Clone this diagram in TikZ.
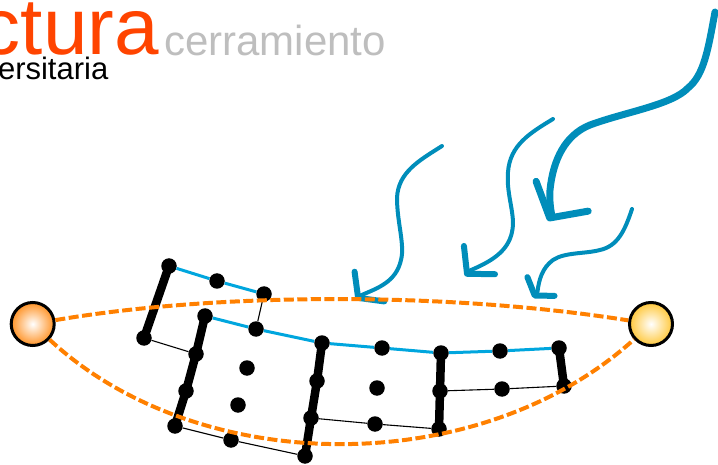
\documentclass[tikz,border=0pt]{standalone}
\usepackage{fontspec}
\setmainfont{Liberation Sans}
\usepackage{xcolor}
\definecolor{flame}{HTML}{FF4400}
\definecolor{silver}{HTML}{BEBEBE}
\definecolor{sun}{HTML}{FF8000}
\definecolor{sunlight}{HTML}{FFC83C}
\definecolor{cable}{HTML}{00A6DE}
\definecolor{flow}{HTML}{008DBA}
\usetikzlibrary{arrows.meta}
\tikzset{
    mesh_dot/.style={circle, fill=black, inner sep=0pt, minimum size=15.5pt},
    mesh_beam/.style={draw=black, line width=8.5pt},
    mesh_tie/.style={draw=black, line width=1.1pt},
    mesh_cable/.style={draw=cable, line width=3pt},
    support/.style={circle, draw=black, line width=3pt, inner sep=0pt, minimum size=43pt},
    border_cable/.style={draw=sun, line width=4pt, dash pattern=on 10pt off 3.5pt},
    flow_big/.style={draw=flow, line width=7pt, line cap=round, -{Straight Barb[length=25pt, width=60pt, line width=7pt, round]}},
    flow_mid/.style={draw=flow, line width=4pt, line cap=round, -{Straight Barb[length=18.5pt, width=42pt, line width=6pt, round]}},
    flow_edge/.style={draw=flow, line width=4pt, line cap=round, -{Straight Barb[length=16pt, width=42pt, line width=6pt, round]}},
    flow_low/.style={draw=flow, line width=4pt, line cap=round, -{Straight Barb[length=11pt, width=33pt, line width=6pt, round]}}
}
\begin{document}
\begin{tikzpicture}[x=1pt, y=-1pt]
\clip (0,0) rectangle (718,465);

% heading
\node[anchor=base east, inner sep=0pt, text=flame, font=\fontsize{80}{80}\selectfont] (title) at (159,55) {ctura};
\node[anchor=base east, inner sep=0pt, text=silver, font=\fontsize{42}{42}\selectfont] (subtitle) at (386,55.5) {cerramiento};
\node[anchor=base east, inner sep=0pt, text=black, font=\fontsize{31}{31}\selectfont] (faculty) at (108.5,80) {ersitaria};

% wind arrows
\coordinate (wa) at (715,12);
\coordinate (wb) at (553,119);
\coordinate (wc) at (442,146);
\coordinate (wd) at (632,209);
\coordinate (wa_tip) at (548,221);
\coordinate (wb_tip) at (465,276);
\coordinate (wc_tip) at (356,300);
\coordinate (wd_tip) at (533,298);
\draw[flow_big] (wa) .. controls (708,50) and (704,75) .. (688,88)
    .. controls (672,105) and (625,112) .. (590,125)
    .. controls (565,135) and (553,160) .. (550,190)
    .. controls (549,205) and (552,214) .. (wa_tip);
\draw[flow_mid] (wb) .. controls (530,133) and (510,145) .. (508,172)
    .. controls (506,195) and (516,215) .. (512,232)
    .. controls (508,252) and (490,262) .. (470,270.5) -- (wb_tip);
\draw[flow_edge] (wc) .. controls (420,160) and (398,172) .. (397,198)
    .. controls (397,222) and (405,245) .. (401,260)
    .. controls (396,282) and (378,288) .. (360.5,295.5) -- (wc_tip);
\draw[flow_low] (wd) .. controls (625,230) and (618,246) .. (600,250)
    .. controls (585,254) and (565,252) .. (553,260)
    .. controls (542,268) and (539,280) .. (537.5,291.5) -- (wd_tip);

% mesh points
\foreach \name/\pos in {a/{(169,266)}, b/{(217,281)}, c/{(264,294)}, d/{(144,338)},
    e/{(205,316)}, f/{(256,329)}, g/{(322,343)}, h/{(196,354)},
    i/{(247,368)}, j/{(317,381)}, k/{(186,391)}, l/{(238,405)},
    m/{(311,418)}, n/{(175,426)}, o/{(231,440)}, p/{(305,456)},
    q/{(382,348)}, r/{(441,353)}, s/{(500,351)}, t/{(559,348)},
    u/{(377,388)}, v/{(440,391)}, w/{(502,389)}, x/{(564,386)},
    y/{(375,424)}, z/{(439,429)}}
    \node[mesh_dot] (\name) at \pos {};

% mesh lines
\draw[mesh_tie] (c) -- (f);
\draw[mesh_tie] (d) -- (h);
\draw[mesh_tie] (n) -- (o) -- (p);
\draw[mesh_tie] (m) -- (y) -- (z);
\draw[mesh_tie] (v) -- (w) -- (x);
\draw[mesh_cable] (a) -- (b) -- (c);
\draw[mesh_cable] (e) -- (f) -- (g) -- (q) -- (r) -- (s) -- (t);
\draw[mesh_beam] (a.center) -- (d.center);
\draw[mesh_beam] (e.center) -- (h.center) -- (k.center) -- (n.center);
\draw[mesh_beam] (g.center) -- (j.center) -- (m.center) -- (p.center);
\draw[mesh_beam] (r.center) -- (v.center) -- (z.center);
\draw[mesh_beam] (t.center) -- (x.center);

% supports and border cables
\node[support, inner color=white, outer color=sun!85] (left) at (32.7,324) {};
\node[support, inner color=white, outer color=sunlight] (right) at (651,324) {};
\draw[border_cable] (left) .. controls (220,292) and (450,292) .. (right);
\draw[border_cable] (left) .. controls (200,479) and (480,479) .. (right);
\end{tikzpicture}
\end{document}
